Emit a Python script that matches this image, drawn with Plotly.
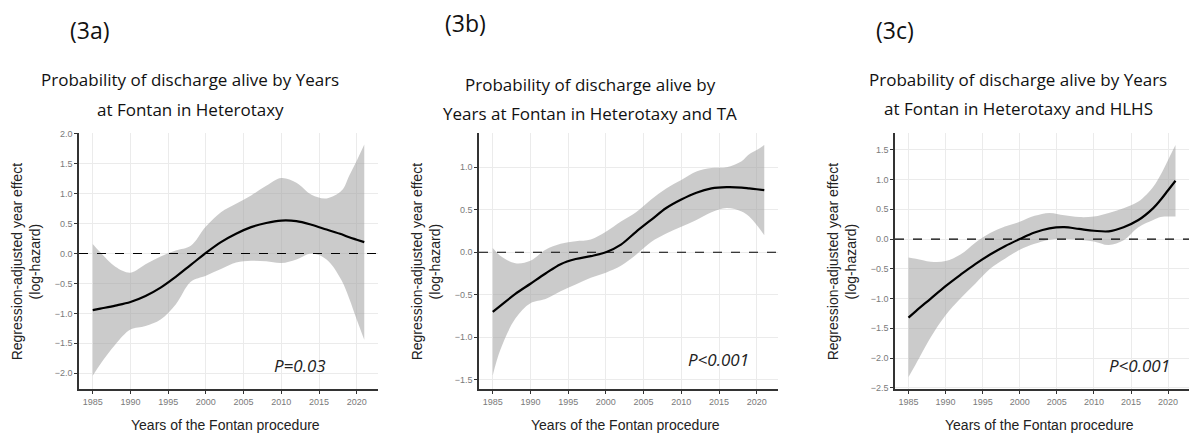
import plotly.graph_objects as go

# ---- data ---------------------------------------------------------------
YEARS = [1985, 1986, 1988, 1990, 1992, 1994, 1996, 1998, 2000, 2002, 2004,
         2006, 2008, 2010, 2012, 2014, 2016, 2018, 2019, 2020, 2021]

# (3a) Heterotaxy
FIT_A = [-0.945, -0.92, -0.87, -0.81, -0.71, -0.57, -0.39, -0.19, 0.01, 0.19, 0.33,
         0.44, 0.51, 0.55, 0.54, 0.48, 0.40, 0.32, 0.27, 0.23, 0.19]
UPR_A = [0.16, 0.02, -0.22, -0.32, -0.18, -0.05, 0.05, 0.13, 0.45, 0.69, 0.83,
         0.97, 1.13, 1.26, 1.18, 0.98, 0.92, 1.05, 1.30, 1.55, 1.82]
LWR_A = [-2.04, -1.85, -1.52, -1.27, -1.21, -1.10, -0.85, -0.47, -0.37, -0.26, -0.15,
         -0.12, -0.13, -0.16, -0.10, 0.0, -0.10, -0.45, -0.75, -1.10, -1.44]

# (3b) Heterotaxy and TA
FIT_B = [-0.70, -0.63, -0.49, -0.37, -0.25, -0.14, -0.08, -0.046, 0.0, 0.09, 0.24,
         0.38, 0.52, 0.62, 0.70, 0.75, 0.765, 0.76, 0.75, 0.74, 0.73]
UPR_B = [0.05, -0.04, -0.13, -0.10, 0.03, 0.10, 0.13, 0.15, 0.24, 0.36, 0.47,
         0.62, 0.75, 0.85, 0.95, 0.99, 1.00, 1.07, 1.15, 1.20, 1.26]
LWR_B = [-1.45, -1.15, -0.78, -0.60, -0.55, -0.46, -0.38, -0.30, -0.24, -0.16, -0.03,
         0.12, 0.22, 0.30, 0.38, 0.47, 0.52, 0.48, 0.42, 0.32, 0.20]

# (3c) Heterotaxy and HLHS
FIT_C = [-1.32, -1.21, -1.00, -0.79, -0.60, -0.42, -0.26, -0.12, 0.0, 0.11, 0.18,
         0.20, 0.17, 0.14, 0.13, 0.20, 0.32, 0.52, 0.66, 0.82, 0.98]
UPR_C = [-0.31, -0.33, -0.38, -0.37, -0.26, -0.06, 0.10, 0.21, 0.29, 0.39, 0.44,
         0.40, 0.37, 0.38, 0.44, 0.52, 0.63, 0.88, 1.08, 1.33, 1.58]
LWR_C = [-2.32, -2.10, -1.65, -1.28, -1.00, -0.75, -0.50, -0.33, -0.18, -0.08, -0.01,
         0.0, -0.01, -0.04, -0.10, -0.02, 0.20, 0.32, 0.37, 0.38, 0.38]

PANEL_TAGS = ["(3a)", "(3b)", "(3c)"]
TITLE_L1 = ["Probability of discharge alive by Years",
            "Probability of discharge alive by",
            "Probability of discharge alive by Years"]
TITLE_L2 = ["at Fontan in Heterotaxy",
            "Years at Fontan in Heterotaxy and TA",
            "at Fontan in Heterotaxy and HLHS"]
P_TEXT = ["P=0.03", "P<0.001", "P<0.001"]
P_POS = [(2012.5, -1.87), (2014.9, -1.26), (2016.2, -2.12)]
Y_TICKS = [[-2.0, -1.5, -1.0, -0.5, 0.0, 0.5, 1.0, 1.5, 2.0],
           [-1.5, -1.0, -0.5, 0.0, 0.5, 1.0],
           [-2.5, -2.0, -1.5, -1.0, -0.5, 0.0, 0.5, 1.0, 1.5]]
Y_RANGES = [[-2.262, 2.016], [-1.607, 1.404], [-2.52, 1.787]]
X_TICKS = [1985, 1990, 1995, 2000, 2005, 2010, 2015, 2020]
X_RANGE = [1983.18, 2022.82]

W, H = 1203, 438
OFF = 8  # the page body margin shifts the figure by this many pixels

X_DOMAINS = [[79, 378], [479, 778], [895, 1189]]  # page pixels
Y_TOP, Y_BOT = 131, 392

FIT = [FIT_A, FIT_B, FIT_C]
UPR = [UPR_A, UPR_B, UPR_C]
LWR = [LWR_A, LWR_B, LWR_C]

BAND = "rgba(160,160,160,0.55)"
TITLE_FONT = "Open Sans, Lato, sans-serif"
AXIS_FONT = "Liberation Sans, Arial, sans-serif"


def fx(px):
    return (px - OFF) / W


def fy(py):
    return 1 - (py - OFF) / H


def label(text, px, py, size, family=AXIS_FONT, angle=0, color="#222"):
    return dict(text=text, x=fx(px), y=fy(py), xref="paper", yref="paper",
                showarrow=False, textangle=angle, xanchor="center", yanchor="middle",
                font=dict(family=family, size=size, color=color))


fig = go.Figure()
annotations = []
shapes = []
layout_axes = {}

for i in range(3):
    sfx = "" if i == 0 else str(i + 1)
    xa, ya = "x" + sfx, "y" + sfx

    fig.add_trace(go.Scatter(x=YEARS, y=LWR[i], mode="lines", line=dict(width=0, shape="spline"),
                             xaxis=xa, yaxis=ya, showlegend=False, hoverinfo="skip"))
    fig.add_trace(go.Scatter(x=YEARS, y=UPR[i], mode="lines", line=dict(width=0, shape="spline"),
                             fill="tonexty", fillcolor=BAND,
                             xaxis=xa, yaxis=ya, showlegend=False, hoverinfo="skip"))
    fig.add_trace(go.Scatter(x=YEARS, y=FIT[i], mode="lines",
                             line=dict(color="black", width=2.2, shape="spline"),
                             xaxis=xa, yaxis=ya, showlegend=False))

    x0, x1 = X_DOMAINS[i]
    common = dict(showgrid=True, gridcolor="#ebebeb", gridwidth=1,
                  showline=True, linecolor="#333333", linewidth=1.5,
                  ticks="outside", ticklen=3, tickcolor="#333333",
                  tickfont=dict(family=AXIS_FONT, size=9, color="#7a7a7a"),
                  zeroline=False, fixedrange=True)
    layout_axes["xaxis" + sfx] = dict(common, domain=[fx(x0), fx(x1)], range=X_RANGE,
                                      tickvals=X_TICKS, anchor=ya)
    layout_axes["yaxis" + sfx] = dict(common, domain=[fy(Y_BOT), fy(Y_TOP)],
                                      range=Y_RANGES[i], tickvals=Y_TICKS[i],
                                      tickformat=".1f", anchor=xa)

    # zero reference line
    shapes.append(dict(type="line", xref=xa + " domain", yref=ya, x0=0, x1=1, y0=0, y1=0,
                       line=dict(color="black", width=1.2, dash="dash")))

    annotations.append(dict(text="<i>" + P_TEXT[i] + "</i>", x=P_POS[i][0], y=P_POS[i][1],
                            xref=xa, yref=ya, showarrow=False, xanchor="center",
                            yanchor="middle",
                            font=dict(family=TITLE_FONT, size=17, color="#222")))

    cx = (x0 + x1) / 2
    annotations.append(label("Years of the Fontan procedure", cx - 3, 429, 14))
    annotations.append(label("Regression-adjusted year effect<br>(log-hazard)",
                             x0 - 53, 262, 14, angle=-90))

TAG_POS = [(90, 26), (465, 19), (895, 26)]
T1_POS = [(190, 77), (590, 82), (1018, 77)]
T2_POS = [(190, 107), (590, 111), (1018, 106)]
for i in range(3):
    annotations.append(label(PANEL_TAGS[i], *TAG_POS[i], 23, TITLE_FONT, color="#111"))
    annotations.append(label(TITLE_L1[i], *T1_POS[i], 17, TITLE_FONT, color="#111"))
    annotations.append(label(TITLE_L2[i], *T2_POS[i], 17, TITLE_FONT, color="#111"))

fig.update_layout(
    width=W, height=H,
    margin=dict(l=0, r=0, t=0, b=0),
    paper_bgcolor="white", plot_bgcolor="white",
    annotations=annotations, shapes=shapes,
    **layout_axes,
)

fig.write_html("out.html")
